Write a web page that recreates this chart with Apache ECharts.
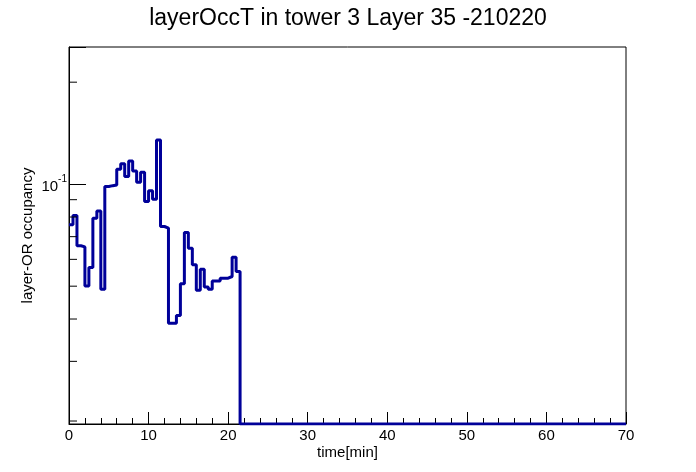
<!DOCTYPE html>
<html>
<head>
<meta charset="utf-8">
<script src="https://cdn.jsdelivr.net/npm/echarts@6/dist/echarts.min.js"></script>
<style>
html,body{margin:0;padding:0;background:#fff;}
#chart{width:696px;height:472px;}
</style>
</head>
<body>
<div id="chart"></div>
<script>
// ---- data ----
const titleText = 'layerOccT in tower 3 Layer 35 -210220';
const xAxisTitle = 'time[min]';
const yAxisTitle = 'layer-OR occupancy';
const binWidth = 0.5;          // minutes per bin
const xRange = [0, 70];
const yRange = [0.0196, 0.254];
const xTickLabels = [0, 10, 20, 30, 40, 50, 60, 70];
const yMinorTicks = [0.02, 0.03, 0.04, 0.05, 0.06, 0.07, 0.08, 0.09, 0.2];
// occupancy per 0.5-min bin, starting at t = 0
const occupancy = [
  0.0759, 0.0808, 0.0658, 0.0653, 0.0501, 0.0568, 0.0794, 0.0834,
  0.0490, 0.0984, 0.0990, 0.0995, 0.1107, 0.1148, 0.1053, 0.1171,
  0.1094, 0.1014, 0.1085, 0.0889, 0.0956, 0.0903, 0.1351, 0.0750,
  0.0742, 0.0389, 0.0389, 0.0410, 0.0508, 0.0720, 0.0647, 0.0578,
  0.0486, 0.0561, 0.0497, 0.0490, 0.0518, 0.0518, 0.0528, 0.0528,
  0.0534, 0.0609, 0.0552
];
// bins after the filled ones are empty (0) up to the end of the axis

// ---- build ----
const lineColor = '#000099';
const histData = occupancy.map((v, i) => [i * binWidth, Math.max(v, yRange[0])]);
histData.push([occupancy.length * binWidth, yRange[0]]);
histData.push([xRange[1], yRange[0]]);

const chart = echarts.init(document.getElementById('chart'), null, {renderer: 'canvas'});
const font = 'Liberation Sans, Arial, Helvetica, sans-serif';
chart.setOption({
  animation: false,
  backgroundColor: '#fff',
  title: {
    text: titleText, left: 'center', top: 2,
    textStyle: {fontFamily: font, fontSize: 23, fontWeight: 'normal', color: '#000'}
  },
  grid: {
    left: 69, right: 70, top: 47, bottom: 48,
    show: true, borderColor: '#000', borderWidth: 1, backgroundColor: 'transparent'
  },
  xAxis: {
    type: 'value', min: xRange[0], max: xRange[1], interval: 10,
    name: xAxisTitle, nameLocation: 'middle', nameGap: 21, nameMoveOverlap: false,
    nameTextStyle: {fontFamily: font, fontSize: 15, color: '#000'},
    axisLine: {show: true, lineStyle: {color: '#000', width: 1}},
    axisTick: {show: true, inside: true, length: 12, lineStyle: {color: '#000'}},
    minorTick: {show: true, splitNumber: 5, length: 6, lineStyle: {color: '#000'}},
    axisLabel: {
      fontFamily: font, fontSize: 15, color: '#000', margin: 4,
      formatter: v => xTickLabels.indexOf(v) >= 0 ? String(v) : ''
    },
    splitLine: {show: false}
  },
  yAxis: {
    type: 'log', logBase: 10, min: yRange[0], max: yRange[1],
    name: yAxisTitle, nameLocation: 'middle', nameGap: 34, nameRotate: 90, nameMoveOverlap: false,
    nameTextStyle: {fontFamily: font, fontSize: 15, color: '#000'},
    axisLine: {show: true, lineStyle: {color: '#000', width: 1}},
    axisTick: {show: true, inside: true, length: 17, lineStyle: {color: '#000'}},
    axisLabel: {
      margin: 2,
      formatter: v => Math.abs(Math.log10(v) + 1) < 1e-6 ? '{b|10}{s|-1}' : '',
      rich: {
        b: {fontFamily: font, fontSize: 15, color: '#000', lineHeight: 20, verticalAlign: 'bottom'},
        s: {fontFamily: font, fontSize: 10, color: '#000', verticalAlign: 'top', lineHeight: 20}
      }
    },
    splitLine: {show: false}
  },
  series: [
    {
      type: 'line', step: 'end', data: histData, showSymbol: false, symbol: 'none',
      lineStyle: {color: lineColor, width: 3}, itemStyle: {color: lineColor},
      z: 3
    },
    {
      type: 'custom', data: yMinorTicks.map(v => [xRange[0], v]), silent: true, z: 4,
      renderItem: (params, api) => {
        const p = api.coord([api.value(0), api.value(1)]);
        return {
          type: 'line',
          shape: {x1: p[0], y1: p[1], x2: p[0] + 8, y2: p[1]},
          style: {stroke: '#000', lineWidth: 1}
        };
      }
    }
  ]
});
</script>
</body>
</html>
